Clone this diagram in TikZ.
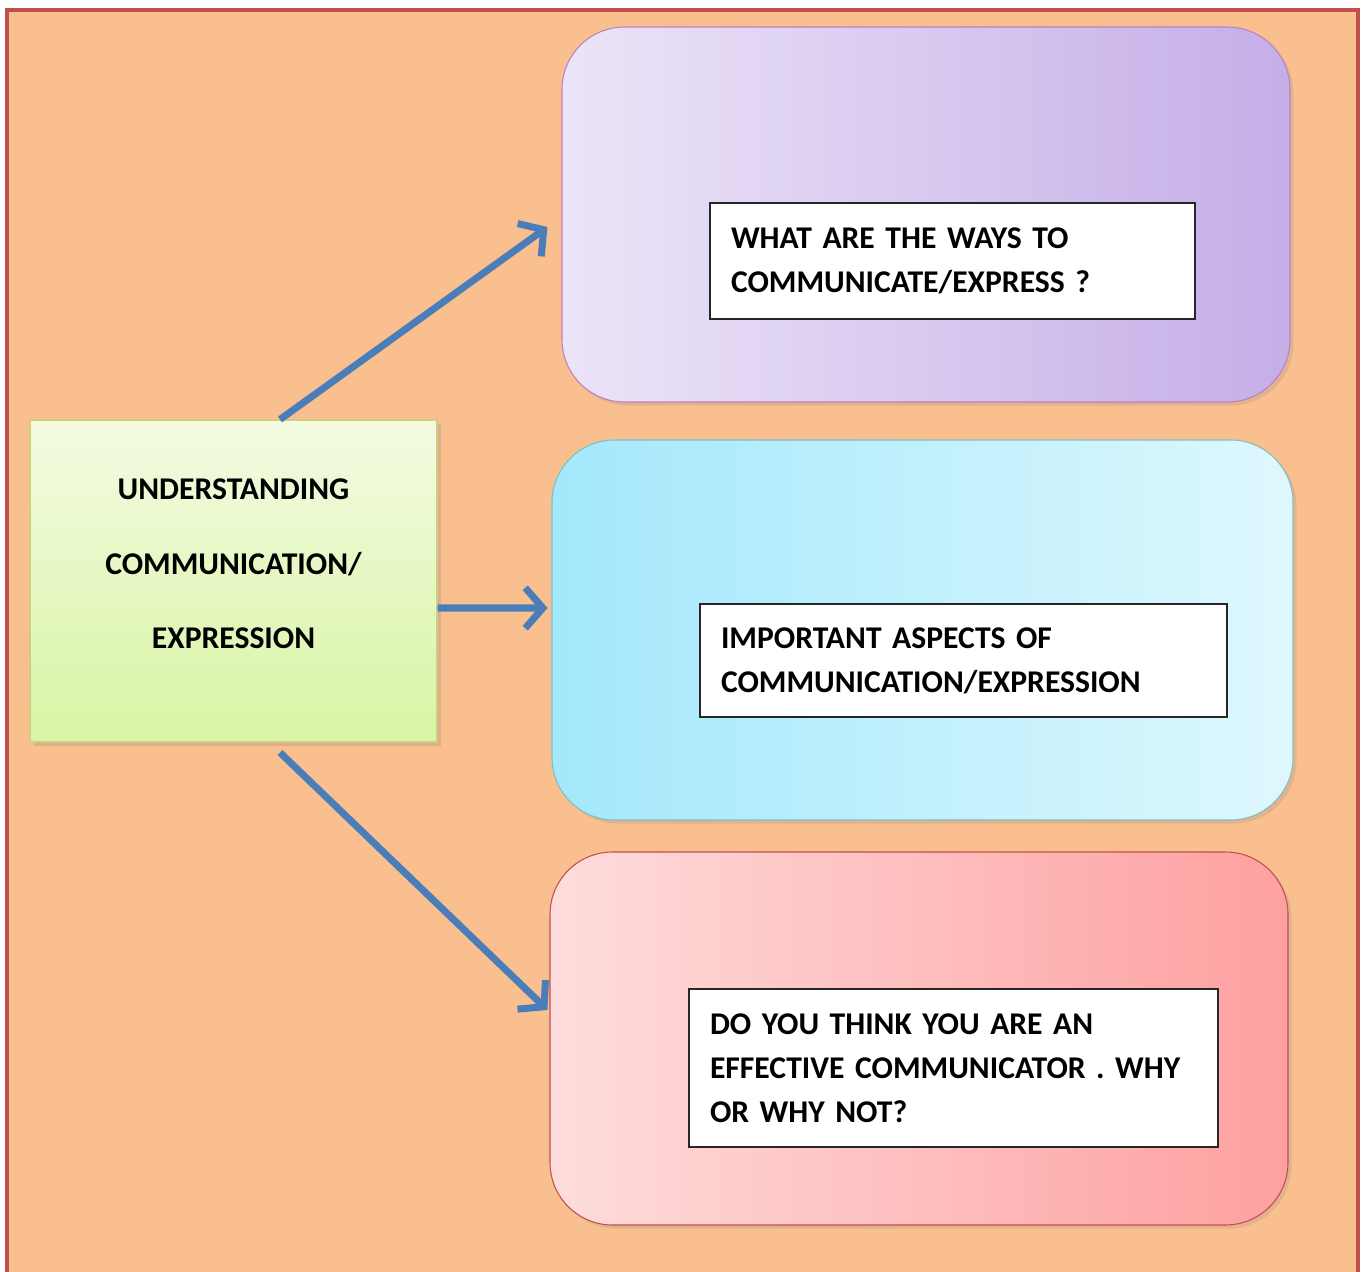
\documentclass[tikz,border=0pt]{standalone}
\usepackage{fontspec}
\setmainfont{Carlito}[WordSpace=0.75]
\usepackage{xcolor}
\usepackage{tikz}
\usetikzlibrary{arrows.meta, positioning, calc, shadows}

\definecolor{bgorange}{HTML}{FABF8F}
\definecolor{framered}{HTML}{C0504D}
\definecolor{arrowblue}{HTML}{4A7EBB}
\definecolor{greentop}{HTML}{F3FBE2}
\definecolor{greenbot}{HTML}{D8F5A4}
\definecolor{violetL}{HTML}{ECE4F8}
\definecolor{violetR}{HTML}{C4AEE7}
\definecolor{cyanL}{HTML}{A4E8FC}
\definecolor{cyanR}{HTML}{DEF8FD}
\definecolor{pinkL}{HTML}{FEDCDC}
\definecolor{pinkR}{HTML}{FEA0A0}

\begin{document}
\begin{tikzpicture}[
      main/.style  ={rectangle, draw=olive!40, line width=0.6pt, top color=greentop, bottom color=greenbot,
                     minimum width=8.14cm, minimum height=6.44cm, align=center,
                     font=\bfseries\fontsize{18}{42.5}\selectfont,
                     drop shadow={opacity=0.25, shadow xshift=2pt, shadow yshift=-2pt}},
      topic/.style ={rectangle, rounded corners=1.25cm, line width=0.6pt,
                     drop shadow={opacity=0.2, shadow xshift=2pt, shadow yshift=-2pt}},
      quest/.style ={rectangle, draw=black!85, line width=0.8pt, fill=white, align=left,
                     inner sep=0pt, font=\bfseries\fontsize{18}{25}\selectfont},
      link/.style  ={draw=arrowblue, line width=4pt, -{Straight Barb[length=10pt, width=23pt]}},
    ]

    \useasboundingbox (0,0) rectangle (27.22,-25.44);

    % Hintergrund mit Rahmen
    \draw[framered, line width=2.3pt, fill=bgorange] (0.14,-0.2) rectangle (27.16,-25.9);

    % Zentrales Thema
    \node[main] (UC) at (4.67,-11.62) {UNDERSTANDING\\COMMUNICATION/\\EXPRESSION\\[-23pt]\mbox{}};

    % Drei Themenfelder
    \node[topic, draw=violet!50, left color=violetL, right color=violetR,
          minimum width=14.56cm, minimum height=7.5cm] (WAYS) at (18.52,-4.29) {};
    \node[topic, draw=teal!50, left color=cyanL, right color=cyanR,
          minimum width=14.82cm, minimum height=7.6cm] (ASPECT) at (18.45,-12.6) {};
    \node[topic, draw=framered, left color=pinkL, right color=pinkR,
          minimum width=14.76cm, minimum height=7.46cm] (EFFECT) at (18.38,-20.77) {};

    % Fragen
    \node[quest, minimum width=9.7cm, minimum height=2.32cm, text width=8.86cm] (Q1) at (19.05,-5.22)
      {WHAT ARE THE WAYS TO\\COMMUNICATE/EXPRESS ?};
    \node[quest, minimum width=10.54cm, minimum height=2.26cm, text width=9.7cm] (Q2) at (19.27,-13.21)
      {IMPORTANT ASPECTS OF\\COMMUNICATION/EXPRESSION};
    \node[quest, minimum width=10.58cm, minimum height=3.16cm, text width=9.74cm] (Q3) at (19.07,-21.36)
      {DO YOU THINK YOU ARE AN\\EFFECTIVE COMMUNICATOR . WHY\\OR WHY NOT?};

    % Pfeile
    \coordinate (s1) at ($(UC.north)+(0.93,0)$);
    \coordinate (e1) at ($(WAYS.west)+(-0.28,-0.25)$);
    \coordinate (s2) at ($(UC.east)+(0,-0.54)$);
    \coordinate (e2) at ($(ASPECT.west)+(-0.08,0.44)$);
    \coordinate (s3) at ($(UC.south)+(0.93,-0.2)$);
    \coordinate (e3) at ($(EFFECT.west)+(-0.04,0.57)$);
    \draw[link] (s1) -- (e1);
    \draw[link] (s2) -- (e2);
    \draw[link] (s3) -- (e3);

  \end{tikzpicture}
\end{document}
